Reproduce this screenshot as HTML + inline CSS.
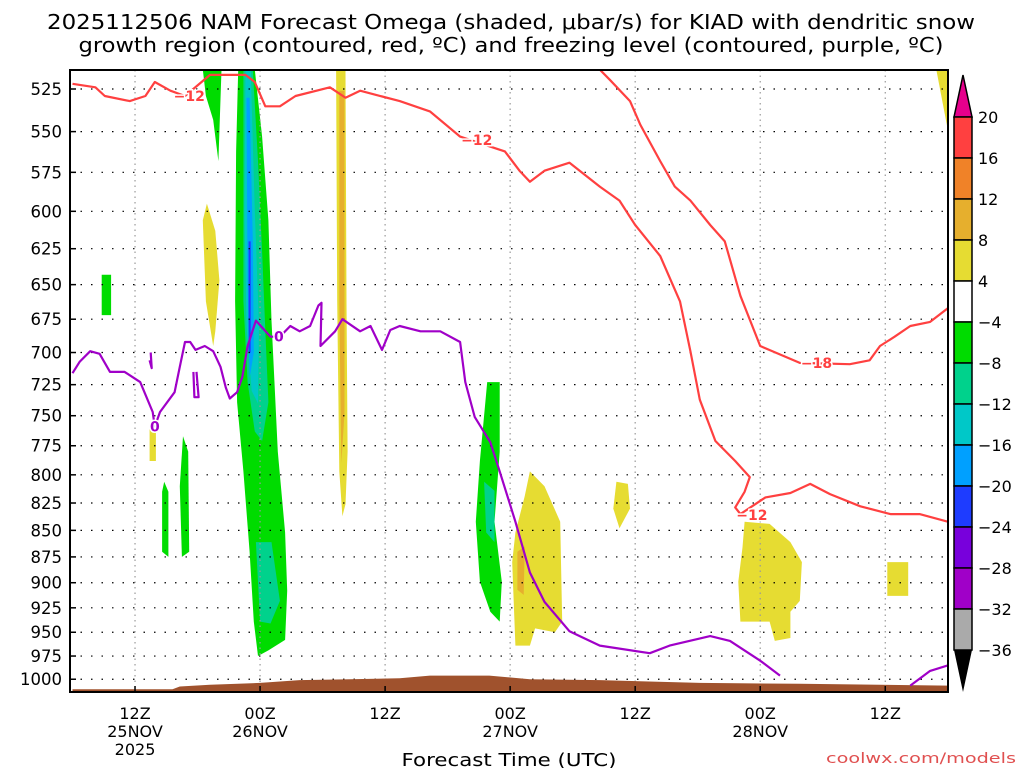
<!DOCTYPE html>
<html><head><meta charset="utf-8">
<style>
html,body{margin:0;padding:0;background:#fff;}
svg{display:block;font-family:"DejaVu Sans","Liberation Sans",sans-serif;}
</style></head>
<body>
<svg id="chart" width="1024" height="768" viewBox="0 0 1024 768">
<text x="511" y="29" text-anchor="middle" font-size="20" textLength="928" lengthAdjust="spacingAndGlyphs">2025112506 NAM Forecast Omega (shaded, μbar/s) for KIAD with dendritic snow</text>
<text x="511" y="52" text-anchor="middle" font-size="20" textLength="865" lengthAdjust="spacingAndGlyphs">growth region (contoured, red, ºC) and freezing level (contoured, purple, ºC)</text>
<text x="509" y="766" text-anchor="middle" font-size="18" textLength="215" lengthAdjust="spacingAndGlyphs">Forecast Time (UTC)</text>
<text x="1016" y="763" text-anchor="end" font-size="14" fill="#e05050" textLength="190" lengthAdjust="spacingAndGlyphs">coolwx.com/models</text>
<g id="plot"></g>
</svg>
<script>
const pressureTicks=[525,550,575,600,625,650,675,700,725,750,775,800,825,850,875,900,925,950,975,1000];
const timeTickHours=[6,18,30,42,54,66,78];
const timeTickLabels=[["12Z","25NOV","2025"],["00Z","26NOV"],["12Z"],["00Z","27NOV"],["12Z"],["00Z","28NOV"],["12Z"]];
const cbLevels=[20,16,12,8,4,-4,-8,-12,-16,-20,-24,-28,-32,-36];
const cbColors=["#ff4040","#f08228","#e6af2d","#e6dc32","#ffffff","#00dc00","#00d28c","#00c8c8","#00a0ff","#1e3cff","#7800dc","#a000c8","#aaaaaa"];

const terrain=[[0,1011],[9.6,1011],[10.3,1008],[13.2,1006],[18,1004],[21.8,1001],[26.6,1000],[31.4,999],[34.3,996],[40,996],[43.9,1000],[50.6,1001],[60.2,1004],[69.8,1005],[84,1007]];

const shadeGreen1=[[15.9,514],[17.5,514],[18.2,553],[18.8,606],[19.1,676],[19.7,780],[20.4,852],[20.6,908],[20.4,958],[18.8,969],[17.8,975],[17.4,939],[17,870],[16.4,797],[15.8,739],[15.6,662],[15.7,562]];
const shadeTeal1=[[16.4,514],[17.3,514],[17.8,568],[18.2,627],[18.5,683],[18.8,739],[18.2,771],[17.5,763],[16.8,723],[16.4,662]];
const shadeCyan1=[[16.6,514],[17.1,514],[17.5,600],[17.9,680],[17.8,740],[17.2,730],[16.7,680],[16.5,600]];
const shadeBlue1=[[16.7,530],[17.0,530],[17.3,620],[17.4,700],[17.0,720],[16.8,650]];
const shadeDarkBlue1=[[16.9,620],[17.1,620],[17.1,700],[16.9,700]];
const shadeTeal2=[[17.6,861],[19.1,861],[19.9,918],[19,941],[18,939]];
const shadeGreen2=[[12.5,514],[14.3,514],[14,568],[13.5,543],[12.8,529]];
const shadeYellow1=[[12.5,606],[12.9,595],[13.7,613],[14.1,647],[13.7,684],[13.5,695],[12.8,662]];
const shadeYellow2=[[25.3,514],[26.2,514],[26.3,662],[26.4,780],[26.2,826],[25.9,837],[25.6,797],[25.4,662]];
const shadeOrange1=[[25.6,526],[26.1,526],[26.1,748],[25.8,790],[25.6,662]];
const shadeGreen3=[[2.8,643],[3.7,643],[3.7,672],[2.8,672]];
const shadeYellow3=[[7.4,759],[8.0,759],[8.0,788],[7.4,788]];
const shadeGreen4=[[8.8,806],[9.2,815],[9.2,875],[8.6,870],[8.6,815]];
const shadeGreen5=[[10.6,767],[11.1,780],[11.2,870],[10.5,875],[10.3,810]];
const shadeGreen6=[[39.8,723],[41,723],[41,780],[40.5,842],[41.2,899],[41,939],[40.1,929],[39.1,899],[38.7,842],[39.1,788]];
const shadeTeal3=[[39.5,806],[40.5,814],[40.5,861],[39.7,852]];
const shadeYellow4=[[43.9,797],[45.3,810],[46.8,842],[47,939],[46.3,950],[44.4,946],[43.9,964],[42.5,964],[42.2,880],[42.5,852],[43.4,819]];
const shadeOrange2=[[42.7,870],[43.4,865],[43.3,912],[42.7,907]];
const shadeYellow5=[[52.2,806],[53.3,808],[53.5,830],[52.5,848],[51.9,830]];
const shadeYellow6=[[64.5,842],[66.9,844],[68.9,861],[70,880],[69.8,918],[68.9,929],[68.9,956],[67.4,959],[66.9,939],[64.1,939],[63.9,899],[64.3,866]];
const shadeYellow7=[[78.2,880],[80.2,880],[80.2,913],[78.2,913]];
const shadeYellow8=[[82.9,514],[84,514],[84,549]];

const redMinus12=[[0,522],[2.2,524],[3.1,529],[5.5,532],[7,529],[7.9,521],[9.4,526],[10.8,529],[13.2,517],[16.6,517],[17.5,521],[18.5,535],[19.9,535],[21.4,529],[24.7,524],[26.2,530],[27.6,526],[31.4,532],[34.3,538],[37.2,553],[39.1,557],[41.5,562],[42.9,574],[43.9,581],[45.3,574],[47.7,569],[50.6,584],[52.5,593],[54,609],[56.4,630],[58.3,662],[59.3,699],[60.2,737],[61.7,771],[63.6,788],[65,802],[64.5,815],[63.6,829],[64.1,835],[66.5,820],[68.9,816],[70.8,808],[72.7,817],[75.6,828],[78.5,835],[81.3,835],[84,842]];
const redMinus18=[[50.6,514],[51.6,520],[53.5,532],[54.5,546],[56.4,568],[57.8,584],[59.3,593],[61.2,609],[62.6,620],[64.1,658],[66,695],[69.8,708],[74.6,709],[76.5,706],[77.5,695],[78.9,688],[80.4,680],[82.3,677],[84,667]];
const purpleZero=[[0,716],[0.7,707],[1.7,699],[2.6,701],[3.6,715],[5,715],[6.5,723],[7.7,747],[7.9,759],[8.4,747],[9.8,731],[10.3,711],[10.8,692],[11.3,692],[11.8,698],[12.7,695],[13.5,699],[14.2,711],[14.7,727],[15.1,736],[15.8,731],[16.3,719],[16.8,695],[17.6,676],[19,688],[19.9,688],[20.9,680],[21.8,684],[22.8,680],[23.6,665],[23.9,663],[23.8,695],[25.2,684],[25.9,675],[27.6,684],[28.6,680],[29.7,698],[30.5,683],[31.4,680],[33.4,684],[35.3,684],[37.2,692],[37.7,723],[38.6,751],[40.1,772],[41,797],[42.5,842],[43.9,890],[45.3,919],[47.7,949],[50.6,964],[55.4,972],[57.3,964],[61.2,954],[63.1,959],[66,980],[67.9,996]];
const purpleZero2=[[80.4,1007],[82.3,991],[84,985]];
const purpleZero3=[[7.5,700],[7.6,712],[7.4,706]];
const purpleZero4=[[11.6,715],[11.7,735],[12.1,735],[11.9,715]];
const contourLabels=[["-12",11.2,529,"#ff4040"],["-12",38.8,555,"#ff4040"],["-12",65.2,836,"#ff4040"],["-18",71.4,708,"#ff4040"],["0",7.9,759,"#a000c8"],["0",19.8,688,"#a000c8"]];

const X0=72.5,XS=10.42,YR=89,YK=916,PL=70,PR=948,PT=70,PB=692;
function xs(t){return X0+t*XS;}
function ys(p){return YR+YK*Math.log(p/525);}
const NS="http://www.w3.org/2000/svg";
const plot=document.getElementById('plot');
function mk(tag,attrs,parent){const e=document.createElementNS(NS,tag);for(const k in attrs)e.setAttribute(k,attrs[k]);(parent||plot).appendChild(e);return e;}
function pts(a){return a.map(d=>xs(d[0]).toFixed(1)+","+ys(d[1]).toFixed(1)).join(" ");}

const defs=mk('defs',{});
const cp=mk('clipPath',{id:'pc'},defs);
mk('rect',{x:PL,y:PT,width:PR-PL,height:PB-PT},cp);
const g=mk('g',{'clip-path':'url(#pc)'});

const shades=[[shadeGreen1,"#00dc00","shade-green-main"],[shadeTeal1,"#00d28c","shade-teal-main"],[shadeCyan1,"#00c8c8","shade-cyan-main"],[shadeBlue1,"#00a0ff","shade-blue-main"],[shadeDarkBlue1,"#1e3cff","shade-darkblue-main"],[shadeTeal2,"#00d28c","shade-teal-lower"],[shadeGreen2,"#00dc00","shade-green-upper"],[shadeYellow1,"#e6dc32","shade-yellow-upper"],[shadeYellow2,"#e6dc32","shade-yellow-strip"],[shadeOrange1,"#e6af2d","shade-orange-strip"],[shadeGreen3,"#00dc00","shade-green-small"],[shadeYellow3,"#e6dc32","shade-yellow-small"],[shadeGreen4,"#00dc00","shade-green-a"],[shadeGreen5,"#00dc00","shade-green-b"],[shadeGreen6,"#00dc00","shade-green-27nov"],[shadeTeal3,"#00d28c","shade-teal-27nov"],[shadeYellow4,"#e6dc32","shade-yellow-27nov"],[shadeOrange2,"#e6af2d","shade-orange-27nov"],[shadeYellow5,"#e6dc32","shade-yellow-b"],[shadeYellow6,"#e6dc32","shade-yellow-28nov"],[shadeYellow7,"#e6dc32","shade-yellow-c"],[shadeYellow8,"#e6dc32","shade-yellow-corner"]];
shades.forEach(s=>{
  const e=mk('polygon',{points:pts(s[0]),fill:s[1]},g);
  
  
});

pressureTicks.forEach(p=>{
  const e=mk('line',{x1:PL,x2:PR,y1:ys(p),y2:ys(p),stroke:'#000','stroke-width':1.2,'stroke-dasharray':'1.5 9'},g);
  
  
});
timeTickHours.forEach(t=>{
  const e=mk('line',{x1:xs(t),x2:xs(t),y1:PT,y2:PB,stroke:'#999','stroke-width':1.2,'stroke-dasharray':'1.5 4'},g);
  
  
});

const ter=terrain.concat([[84,1014],[0,1014]]);
const te=mk('polygon',{points:pts(ter),fill:'#a0522d'},g);



function line(a,c,n){
  const e=mk('polyline',{points:pts(a),fill:'none',stroke:c,'stroke-width':2.2,'stroke-linejoin':'round'},g);
  
  
}
line(redMinus12,"#ff4040","contour-minus12");
line(redMinus18,"#ff4040","contour-minus18");
line(purpleZero,"#a000c8","freezing-level");
line(purpleZero2,"#a000c8","freezing-level-right");
line(purpleZero3,"#a000c8","freezing-level-blip");
line(purpleZero4,"#a000c8","freezing-level-loop");
contourLabels.forEach(l=>{
  const e=mk('text',{x:xs(l[1]),y:ys(l[2])+5,'text-anchor':'middle','font-size':14,'font-weight':'bold',fill:l[3],stroke:'#fff','stroke-width':3,'paint-order':'stroke'},g);
  e.textContent=l[0].replace('-','−');
  
  
});

const fr=mk('rect',{x:PL,y:PT,width:PR-PL,height:PB-PT,fill:'none',stroke:'#000','stroke-width':2});



pressureTicks.forEach(p=>{
  const e=mk('text',{x:62,y:ys(p)+6,'text-anchor':'end','font-size':16.5});
  e.textContent=p;
  
  
  mk('line',{x1:PL,x2:PL+6,y1:ys(p),y2:ys(p),stroke:'#000','stroke-width':1.5});
});
timeTickHours.forEach((t,i)=>{
  timeTickLabels[i].forEach((s,j)=>{
    const e=mk('text',{x:xs(t),y:719+j*18,'text-anchor':'middle','font-size':16});
    e.textContent=s;
    
    
  });
  mk('line',{x1:xs(t),x2:xs(t),y1:PB,y2:PB-6,stroke:'#000','stroke-width':1.5});
});

const CX=954,CW=18,CT=117,CH=41;
const cb=mk('g',{});


mk('polygon',{points:`${CX},${CT} ${CX+CW},${CT} ${CX+CW/2},${CT-42}`,fill:'#e6008c',stroke:'#000','stroke-width':1.5},cb);
cbColors.forEach((c,i)=>{
  const e=mk('rect',{x:CX,y:CT+i*CH,width:CW,height:CH,fill:c,stroke:'#000','stroke-width':1.5},cb);
  
  
});
const cbBot=CT+cbColors.length*CH;
mk('polygon',{points:`${CX},${cbBot} ${CX+CW},${cbBot} ${CX+CW/2},${cbBot+42}`,fill:'#000'},cb);
cbLevels.forEach((v,i)=>{
  const e=mk('text',{x:978,y:CT+i*CH+6,'font-size':16},cb);
  e.textContent=(v<0?'−':'')+Math.abs(v);
  
  
});
</script>
</body></html>
